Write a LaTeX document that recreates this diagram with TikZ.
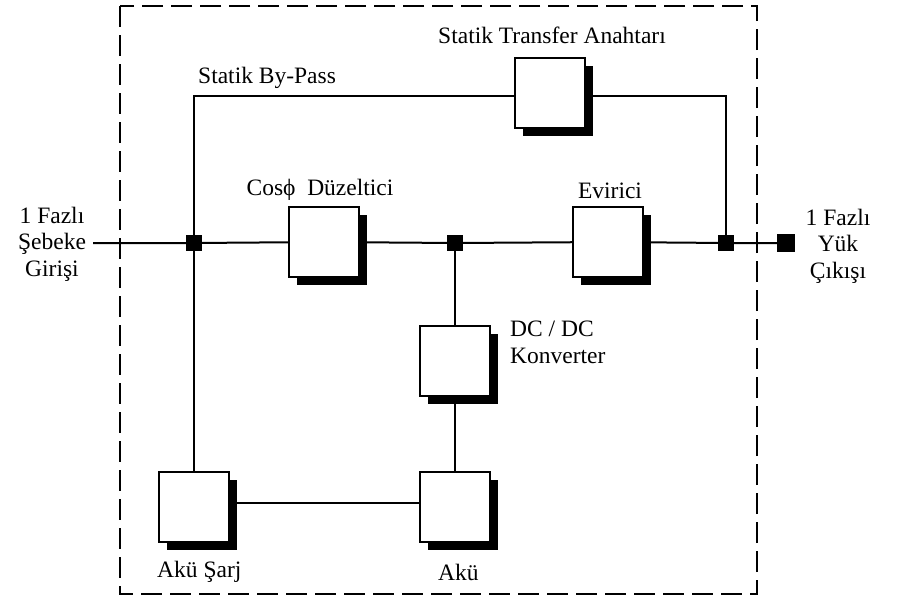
\documentclass[tikz,border=0pt]{standalone}
\usepackage{fontspec}
\setmainfont{Liberation Serif}
\usetikzlibrary{shadows}
\begin{document}
\begin{tikzpicture}[x=1pt,y=-1pt,
  blk/.style={draw, line width=2pt, fill=white, minimum width=70pt, minimum height=70pt, inner sep=0pt,
    drop shadow={shadow xshift=8pt, shadow yshift=-8pt, fill=black, opacity=1}},
  jn/.style={fill=black, minimum size=16pt, inner sep=0pt},
  wire/.style={line width=2pt},
  frame/.style={line width=2.8pt, dash pattern=on 21pt off 8pt},
  lbl/.style={font=\fontsize{23.5}{26.5}\selectfont, inner sep=0pt},
]
\useasboundingbox (0,0) rectangle (899,597);
\draw[frame] (120,6) rectangle (757,594);

% blocks
\node[blk] (cos) at (324,242) {};
\node[blk] (evi) at (608,242) {};
\node[blk] (sta) at (550,93) {};
\node[blk] (dc) at (455,361) {};
\node[blk] (sarj) at (194,507) {};
\node[blk] (aku) at (455,507) {};

% junctions
\node[jn] (j1) at (194,243) {};
\node[jn] (j2) at (455,243) {};
\node[jn] (j3) at (726,243) {};
\node[jn, minimum size=18pt] (out) at (786,243) {};
\coordinate (in) at (93,243);
\coordinate (bpL) at (194,96);
\coordinate (bpR) at (726,96);

% connectors
\draw[wire] (in) -- (j1) -- (cos) -- (j2) -- (evi) -- (j3) -- (out);
\draw[wire] (j1) -- (bpL) -- (bpL -| sta.west);
\draw[wire] (sta.east |- bpR) -- (bpR) -- (j3);
\draw[wire] (j1) -- (sarj);
\draw[wire] (sarj.east |- 0,503) -- (aku.west |- 0,503);
\draw[wire] (j2) -- (dc);
\draw[wire] (dc) -- (aku);

% labels
\node[lbl, align=center] (tin) at (52,244) {1 Fazlı\\Şebeke\\Girişi};
\node[lbl, align=center] (tout) at (838,246) {1 Fazlı\\Yük\\Çıkışı};
\node[lbl, anchor=base] (tcos) at (320,195) {Cosϕ\ \ Düzeltici};
\node[lbl, anchor=base] (tevi) at (610,198) {Evirici};
\node[lbl, anchor=base] (tsta) at (552,43) {Statik Transfer Anahtarı};
\node[lbl, anchor=base west] (tbp) at (198,83) {Statik By-Pass};
\node[lbl, anchor=base west, align=left] (tdc) at (510,363) {DC / DC\\Konverter};
\node[lbl, anchor=base west] (tsarj) at (157,577) {Akü Şarj};
\node[lbl, anchor=base west] (taku) at (438,580) {Akü};
\end{tikzpicture}
\end{document}
